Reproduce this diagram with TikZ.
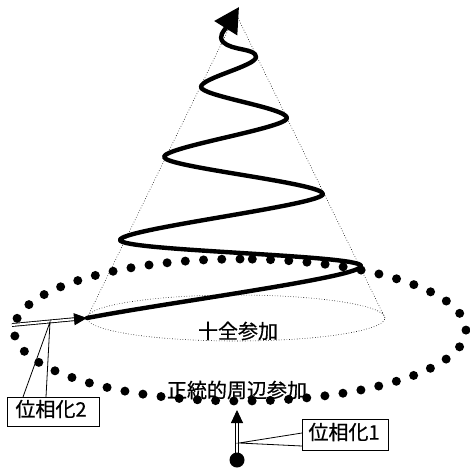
\documentclass[tikz,border=0pt]{standalone}
\usepackage{fontspec}
\newfontfamily\cjk[FakeBold=0.6]{Noto Sans CJK JP}
\usetikzlibrary{arrows.meta}
\begin{document}
\begin{tikzpicture}[x=1pt,y=-1pt,
  spiral/.style={line width=4.4pt, line cap=round, line join=round},
  dline/.style={double, double distance=2pt, line width=0.9pt},
  faint/.style={line width=0.6pt, dotted},
  bigdots/.style={line width=9pt, line cap=round, dash pattern=on 0pt off 18.25pt},
  lbl/.style={font=\cjk\fontsize{20}{24}\selectfont, inner sep=0pt},
  box/.style={line width=0.9pt, fill=white},
  wedge/.style={line width=0.8pt},
]
\useasboundingbox (0,0) rectangle (469,470);
% cone
\coordinate (apex) at (236,14);
\coordinate (bl) at (87,318);
\coordinate (br) at (385,318);
\coordinate (bc) at (236,318);
\draw[faint] (bl) -- (apex) -- (br);
\draw[faint] (bc) ellipse [x radius=149pt, y radius=23pt];
% big dotted ellipse
\coordinate (top) at (240,259);
\draw[bigdots] (top) arc[start angle=90, end angle=450, x radius=226pt, y radius=71pt];
% spiral
\coordinate (r1) at (361,266);
\coordinate (l1) at (120,240);
\coordinate (r2) at (323,194);
\coordinate (l2) at (164,157);
\coordinate (r3) at (287,118);
\coordinate (l3) at (201,87);
\coordinate (r4) at (256,57);
\coordinate (e1) at (223,42);
\coordinate (tip) at (239,7);
\draw[spiral, -{Triangle[length=25pt,width=26pt]}] (bl)
  .. controls (170,302) and (362,277) .. (r1)
  .. controls (362,255) and (120,251) .. (l1)
  .. controls (120,229) and (323,205) .. (r2)
  .. controls (323,183) and (164,167) .. (l2)
  .. controls (164,147) and (287,128) .. (r3)
  .. controls (287,108) and (201,96) .. (l3)
  .. controls (201,78) and (256,66) .. (r4)
  .. controls (256,48) and (232,51) .. (e1)
  .. controls (218,36) and (224,31) .. (tip);
% labels
\node[lbl] (full) at (238,331) {十全参加};
\node[lbl] (lpp) at (237,390) {正統的周辺参加};
% phase 2 arrow
\coordinate (s2) at (12,325);
\draw[dline, -{Triangle[length=13pt,width=12pt]}] (s2) -- (bl);
% phase 1 arrow
\coordinate (dot) at (237,460);
\coordinate (t1) at (237,410);
\draw[dline, -{Triangle[length=13pt,width=12pt]}] (dot) -- (t1);
\fill (dot) circle [radius=7.5pt];
% callout 2
\draw[box] (7,397) rectangle (99,426);
\coordinate (a2) at (50,322);
\draw[wedge] (23,397) -- (a2) -- (46,397);
\node[lbl] (c2) at (51,409) {位相化2};
% callout 1
\draw[box] (302,419) rectangle (388,450);
\coordinate (a1) at (239,443);
\draw[wedge] (302,433) -- (a1) -- (302,446);
\node[lbl] (c1) at (344,432) {位相化1};
\end{tikzpicture}
\end{document}
